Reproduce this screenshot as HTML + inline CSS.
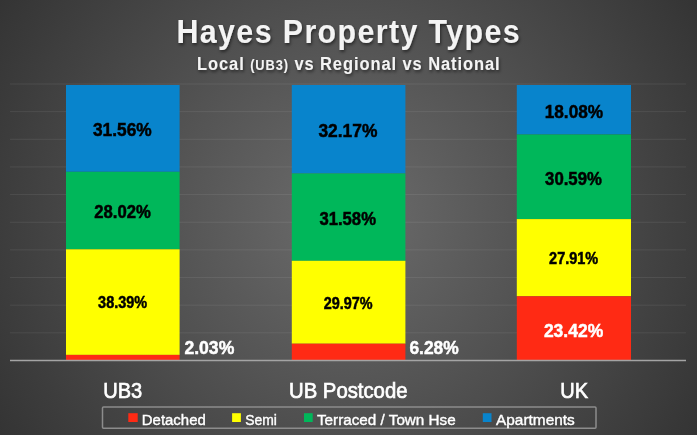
<!DOCTYPE html>
<html><head><meta charset="utf-8">
<style>
html,body{margin:0;padding:0;}
body{width:697px;height:435px;overflow:hidden;position:relative;
background:radial-gradient(circle farthest-corner at 50% 50%, rgb(108,108,108) 0%, rgb(52,52,52) 100%);
font-family:"Liberation Sans", sans-serif;}
svg{position:absolute;left:0;top:0;filter:blur(0.25px);}
</style></head>
<body>
<svg width="697" height="435" viewBox="0 0 697 435" font-family="Liberation Sans, sans-serif">
<defs>
<filter id="sh" x="-10%" y="-30%" width="120%" height="160%">
<feGaussianBlur in="SourceAlpha" stdDeviation="1.5"/>
<feOffset dx="1.2" dy="1.8" result="b"/>
<feComponentTransfer><feFuncA type="linear" slope="0.5"/></feComponentTransfer>
<feMerge><feMergeNode/><feMergeNode in="SourceGraphic"/></feMerge>
</filter>
</defs>
<!-- gridlines -->
<g stroke="rgba(255,255,255,0.08)" stroke-width="1">
<line x1="10" x2="686" y1="332.85" y2="332.85"/>
<line x1="10" x2="686" y1="305.20" y2="305.20"/>
<line x1="10" x2="686" y1="277.55" y2="277.55"/>
<line x1="10" x2="686" y1="249.90" y2="249.90"/>
<line x1="10" x2="686" y1="222.25" y2="222.25"/>
<line x1="10" x2="686" y1="194.60" y2="194.60"/>
<line x1="10" x2="686" y1="166.95" y2="166.95"/>
<line x1="10" x2="686" y1="139.30" y2="139.30"/>
<line x1="10" x2="686" y1="111.65" y2="111.65"/>
<line x1="10" x2="686" y1="84.00" y2="84.00"/>
</g>
<!-- bars -->
<g>
<rect x="66" y="85" width="113.6" height="86.8" fill="#0884cc"/>
<rect x="66" y="171.8" width="113.6" height="77.5" fill="#00b75a"/>
<rect x="66" y="249.3" width="113.6" height="105.6" fill="#ffff00"/>
<rect x="66" y="354.9" width="113.6" height="6.1" fill="#ff2a14"/>

<rect x="291.8" y="85" width="113.6" height="88.45" fill="#0884cc"/>
<rect x="291.8" y="173.45" width="113.6" height="87.35" fill="#00b75a"/>
<rect x="291.8" y="260.8" width="113.6" height="82.9" fill="#ffff00"/>
<rect x="291.8" y="343.7" width="113.6" height="17.3" fill="#ff2a14"/>

<rect x="516.8" y="85" width="114.2" height="49.5" fill="#0884cc"/>
<rect x="516.8" y="134.5" width="114.2" height="84.6" fill="#00b75a"/>
<rect x="516.8" y="219.1" width="114.2" height="77.2" fill="#ffff00"/>
<rect x="516.8" y="296.3" width="114.2" height="64.7" fill="#ff2a14"/>
</g>
<!-- axis -->
<line x1="10" x2="686" y1="360.5" y2="360.5" stroke="#a4a4a4" stroke-width="1.5"/>

<!-- title -->
<g fill="#f4f4f4" font-weight="bold" filter="url(#sh)">
<text x="176.5" y="43" font-size="33" letter-spacing="1.5" textLength="344.5" lengthAdjust="spacingAndGlyphs">Hayes Property Types</text>
<text x="197" y="69.5" font-size="18" letter-spacing="1" textLength="303.5" lengthAdjust="spacingAndGlyphs">Local <tspan font-size="14">(UB3)</tspan> vs Regional vs National</text>
</g>

<!-- data labels -->
<g font-weight="bold" fill="#000" stroke="#000" stroke-width="0.5">
<text x="92.9" y="136" font-size="19" textLength="58.8" lengthAdjust="spacingAndGlyphs">31.56%</text>
<text x="94.2" y="217.5" font-size="17.5" textLength="56.6" lengthAdjust="spacingAndGlyphs">28.02%</text>
<text x="98.1" y="307.5" font-size="15.8" textLength="49" lengthAdjust="spacingAndGlyphs">38.39%</text>
<text x="318.4" y="137" font-size="19" textLength="59" lengthAdjust="spacingAndGlyphs">32.17%</text>
<text x="319.4" y="224.5" font-size="17.5" textLength="56.6" lengthAdjust="spacingAndGlyphs">31.58%</text>
<text x="323.7" y="308.5" font-size="15.8" textLength="48.8" lengthAdjust="spacingAndGlyphs">29.97%</text>
<text x="544.7" y="118" font-size="19" textLength="58.5" lengthAdjust="spacingAndGlyphs">18.08%</text>
<text x="545.1" y="184.5" font-size="17.5" textLength="56.7" lengthAdjust="spacingAndGlyphs">30.59%</text>
<text x="549.1" y="264" font-size="15.8" textLength="49" lengthAdjust="spacingAndGlyphs">27.91%</text>
</g>
<g font-weight="bold" fill="#fff" stroke="#fff" stroke-width="0.5">
<text x="184.4" y="354.1" font-size="19" textLength="49.9" lengthAdjust="spacingAndGlyphs">2.03%</text>
<text x="409.4" y="354.1" font-size="19" textLength="49.3" lengthAdjust="spacingAndGlyphs">6.28%</text>
<text x="543.9" y="336.5" font-size="19" textLength="59.3" lengthAdjust="spacingAndGlyphs">23.42%</text>
</g>

<!-- category labels -->
<g fill="#fff" font-size="22" stroke="#fff" stroke-width="0.7">
<text x="103.2" y="398.3" textLength="39" lengthAdjust="spacingAndGlyphs">UB3</text>
<text x="289" y="398.3" textLength="118.5" lengthAdjust="spacingAndGlyphs">UB Postcode</text>
<text x="560.2" y="398.3" textLength="27.8" lengthAdjust="spacingAndGlyphs">UK</text>
</g>

<!-- legend -->
<rect x="102.5" y="407" width="493.5" height="21.3" rx="1" fill="none" stroke="#8c8c8c" stroke-width="1.5"/>
<rect x="128.3" y="413.2" width="9.4" height="8.8" fill="#ff2a14"/>
<rect x="232.1" y="413.2" width="8.8" height="8.8" fill="#ffff00"/>
<rect x="304" y="413.2" width="8.7" height="8.8" fill="#00b75a"/>
<rect x="482.8" y="413.2" width="8.7" height="8.8" fill="#0884cc"/>
<g fill="#fff" font-size="15.5" stroke="#fff" stroke-width="0.4">
<text x="141.8" y="424.5" textLength="64" lengthAdjust="spacingAndGlyphs">Detached</text>
<text x="245.2" y="424.5" textLength="31.7" lengthAdjust="spacingAndGlyphs">Semi</text>
<text x="317" y="424.5" textLength="138.7" lengthAdjust="spacingAndGlyphs">Terraced / Town Hse</text>
<text x="496" y="424.5" textLength="78.8" lengthAdjust="spacingAndGlyphs">Apartments</text>
</g>
</svg>
</body></html>
